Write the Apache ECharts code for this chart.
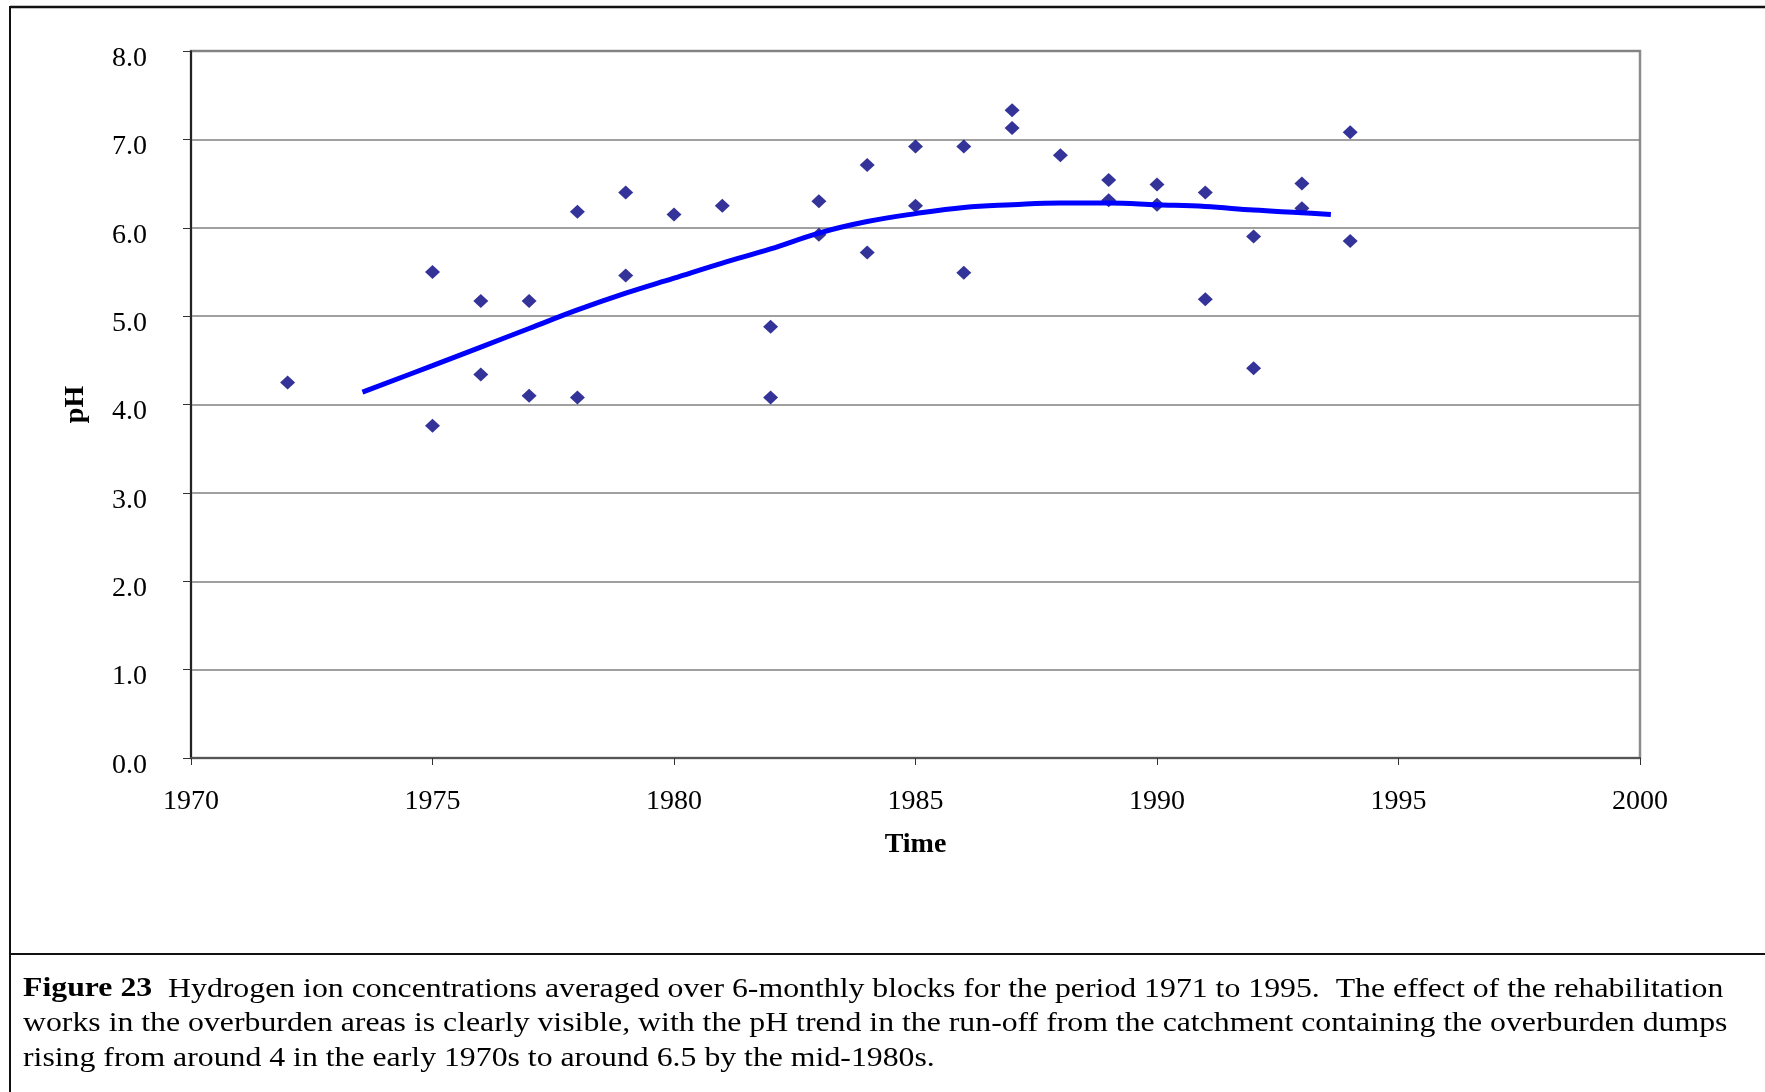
<!DOCTYPE html>
<html>
<head>
<meta charset="utf-8">
<script src="https://cdn.jsdelivr.net/npm/echarts@6/dist/echarts.min.js"></script>
<style>
html,body{margin:0;padding:0;background:#fff;}
#c{width:1765px;height:1092px;}
</style>
</head>
<body>
<div id="c"></div>
<script>
// ---- data ----
var obsYears = [1972, 1975, 1975, 1976, 1976, 1977, 1977, 1978, 1978, 1979, 1979, 1980, 1981, 1982, 1982,
                1983, 1983, 1984, 1984, 1985, 1985, 1986, 1986, 1987, 1987, 1988, 1989, 1989, 1990, 1990,
                1991, 1991, 1992, 1992, 1993, 1993, 1994, 1994];
var obsPH    = [4.25, 5.50, 3.76, 5.17, 4.34, 5.17, 4.10, 6.18, 4.08, 6.40, 5.46, 6.15, 6.25, 4.88, 4.08,
                6.30, 5.92, 6.71, 5.72, 6.92, 6.25, 6.92, 5.49, 7.33, 7.13, 6.82, 6.54, 6.31, 6.49, 6.26,
                6.40, 5.19, 5.90, 4.41, 6.50, 6.22, 7.08, 5.85];
var trendYears = [1973.55, 1975, 1976, 1977, 1978, 1979, 1980, 1981, 1982, 1983, 1984, 1985, 1986, 1987,
                  1988, 1989, 1990, 1991, 1992, 1993, 1993.6];
var trendPH    = [4.14, 4.44, 4.65, 4.86, 5.07, 5.26, 5.43, 5.60, 5.76, 5.94, 6.07, 6.16, 6.23, 6.26,
                  6.28, 6.28, 6.26, 6.24, 6.20, 6.17, 6.15];
var xTickLabels = ['1970', '1975', '1980', '1985', '1990', '1995', '2000'];
var yTickLabels = ['0.0', '1.0', '2.0', '3.0', '4.0', '5.0', '6.0', '7.0', '8.0'];
var xAxisTitle = 'Time';
var yAxisTitle = 'pH';
var captionBold = 'Figure 23';
var captionLines = [
  '  Hydrogen ion concentrations averaged over 6-monthly blocks for the period 1971 to 1995.  The effect of the rehabilitation',
  'works in the overburden areas is clearly visible, with the pH trend in the run-off from the catchment containing the overburden dumps',
  'rising from around 4 in the early 1970s to around 6.5 by the mid-1980s.'
];

var FONT = '"Liberation Serif", "Times New Roman", serif';
var chart = echarts.init(document.getElementById('c'), null, {renderer: 'canvas'});

var scatterData = obsYears.map(function (y, i) { return [y, obsPH[i]]; });
var trendData = trendYears.map(function (y, i) { return [y, trendPH[i]]; });

chart.setOption({
  backgroundColor: '#ffffff',
  animation: false,
  grid: {
    left: 191, right: 125, top: 51, bottom: 334,
    show: true, borderColor: '#8c8c8c', borderWidth: 2.5, backgroundColor: 'transparent'
  },
  xAxis: {
    type: 'value', min: 1970, max: 2000, interval: 5,
    name: xAxisTitle, nameLocation: 'middle', nameGap: 73,
    nameTextStyle: {fontFamily: FONT, fontSize: 28, fontWeight: 'bold', color: '#000'},
    axisLine: {show: true, onZero: false, lineStyle: {color: '#555', width: 2}},
    axisTick: {show: true, inside: false, length: 7, lineStyle: {color: '#333', width: 1}},
    axisLabel: {
      fontFamily: FONT, fontSize: 28, color: '#000', margin: 30,
      formatter: function (v) { var i = Math.round((v - 1970) / 5); return xTickLabels[i] || ''; }
    },
    splitLine: {show: false}
  },
  yAxis: {
    type: 'value', min: 0, max: 8, interval: 1,
    name: yAxisTitle, nameLocation: 'middle', nameGap: 101, nameRotate: 90,
    nameTextStyle: {fontFamily: FONT, fontSize: 28, fontWeight: 'bold', color: '#000'},
    axisLine: {show: true, lineStyle: {color: '#000', width: 1.5}},
    axisTick: {show: true, inside: false, length: 8, lineStyle: {color: '#333', width: 1}},
    axisLabel: {
      fontFamily: FONT, fontSize: 28, color: '#000', margin: 44,
      verticalAlign: 'top', lineHeight: 15,
      formatter: function (v) { return yTickLabels[Math.round(v)] || ''; }
    },
    splitLine: {show: true, lineStyle: {color: '#808080', width: 1.5}}
  },
  series: [
    {
      type: 'scatter', data: scatterData, symbol: 'diamond', symbolSize: [15, 14],
      itemStyle: {color: '#000080'}, z: 3
    },
    {
      type: 'line', data: trendData, smooth: 0.4, showSymbol: false, symbol: 'none',
      lineStyle: {color: '#0000ff', width: 5}, z: 4
    }
  ],
  graphic: [
    {type: 'line', shape: {x1: 10, y1: 7, x2: 1765, y2: 7}, style: {stroke: '#111', lineWidth: 2.5}},
    {type: 'line', shape: {x1: 10, y1: 6, x2: 10, y2: 1092}, style: {stroke: '#111', lineWidth: 2}},
    {type: 'line', shape: {x1: 10, y1: 954, x2: 1765, y2: 954}, style: {stroke: '#111', lineWidth: 2}},
    {
      type: 'text', x: 23, y: 972, scaleX: 1.135,
      style: {
        text: '{b|' + captionBold + '}' + captionLines.join('\n'),
        font: '28px ' + FONT, fill: '#000', lineHeight: 34.5, verticalAlign: 'top', align: 'left',
        rich: {b: {fontWeight: 'bold', fontSize: 28, fontFamily: FONT, lineHeight: 34.5}}
      }
    }
  ]
});
</script>
</body>
</html>
